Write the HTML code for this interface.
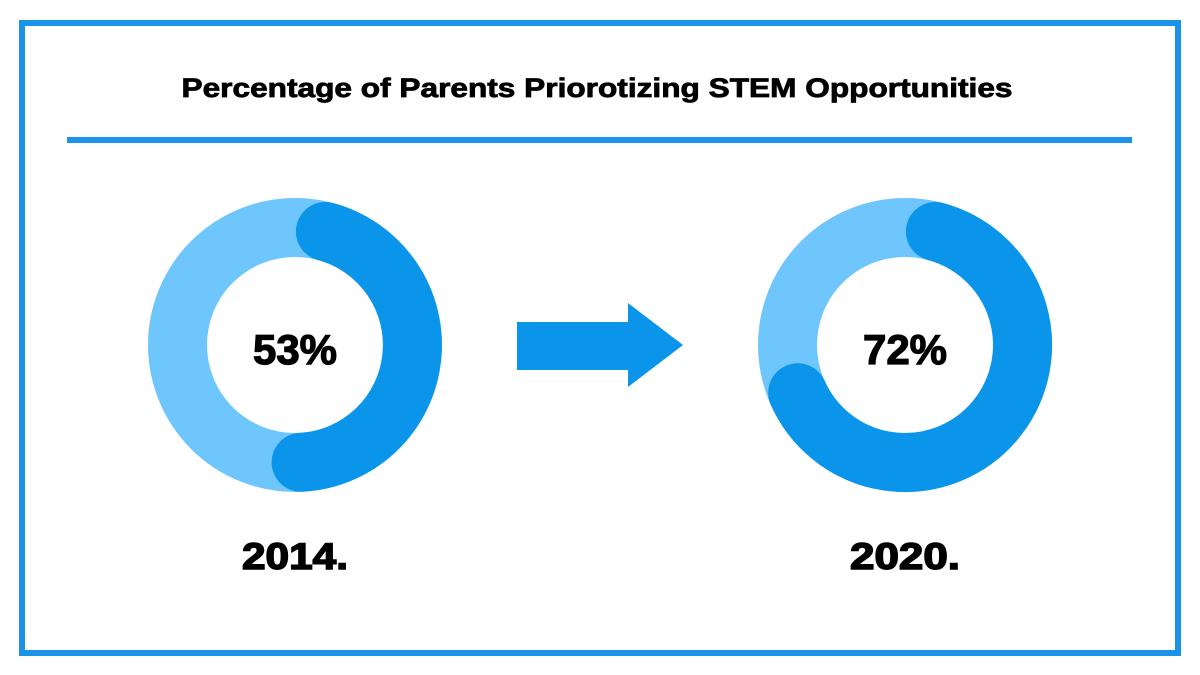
<!DOCTYPE html>
<html><head><style>
html,body{margin:0;padding:0;background:#fff;}
svg{display:block;}
text{font-family:"Liberation Sans",sans-serif;font-weight:bold;fill:#000;stroke:#000;}
</style></head><body>
<svg width="1200" height="675" viewBox="0 0 1200 675">
<rect x="0" y="0" width="1200" height="675" fill="#fff"/>
<rect x="22" y="23" width="1156" height="630" fill="none" stroke="#1b93e8" stroke-width="6"/>
<text x="597" y="97" font-size="27" stroke-width="0.8" text-anchor="middle" textLength="831" lengthAdjust="spacingAndGlyphs">Percentage of Parents Priorotizing STEM Opportunities</text>
<rect x="67" y="137" width="1065" height="6" fill="#1b93e8"/>

<circle cx="295" cy="345" r="117.5" fill="none" stroke="#6fc6fd" stroke-width="59"/>
<path d="M325.4,231.5 A117.5,117.5 0 0 1 301.1,462.3" fill="none" stroke="#0a95ea" stroke-width="59" stroke-linecap="round"/>
<text x="295" y="364" font-size="42" stroke-width="1.2" text-anchor="middle">53%</text>

<circle cx="905" cy="345" r="117.5" fill="none" stroke="#6fc6fd" stroke-width="59"/>
<path d="M935.4,231.5 A117.5,117.5 0 1 1 797.7,392.8" fill="none" stroke="#0a95ea" stroke-width="59" stroke-linecap="round"/>
<text x="905" y="364" font-size="42" stroke-width="1.2" text-anchor="middle">72%</text>

<polygon points="517,322 628,322 628,303 683,345 628,387 628,370 517,370" fill="#0a95ea"/>

<text x="295" y="569" font-size="37" stroke-width="1.5" text-anchor="middle" textLength="106" lengthAdjust="spacingAndGlyphs">2014.</text>
<text x="905" y="569" font-size="37" stroke-width="1.5" text-anchor="middle" textLength="110" lengthAdjust="spacingAndGlyphs">2020.</text>
</svg>
</body></html>
